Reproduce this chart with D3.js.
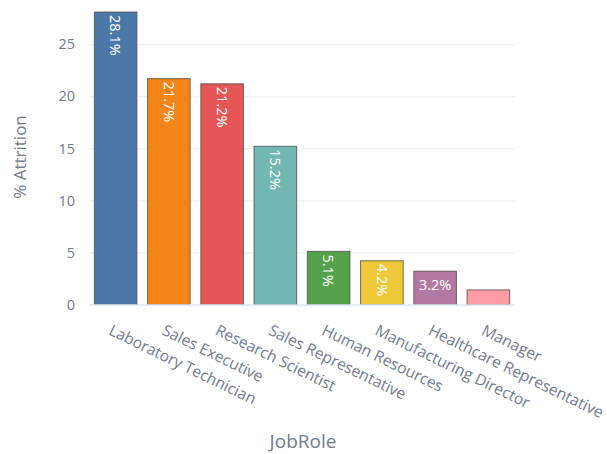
<!DOCTYPE html>
<html>
<head>
<meta charset="utf-8">
<script src="https://cdn.jsdelivr.net/npm/d3@7"></script>
<style>
  html, body { margin: 0; padding: 0; background: #fff; }
  svg { display: block; font-family: "Open Sans", "Noto Sans", sans-serif; }
</style>
</head>
<body>
<svg id="chart" width="607" height="454"></svg>
<script>
const categories = ["Laboratory Technician", "Sales Executive", "Research Scientist", "Sales Representative",
  "Human Resources", "Manufacturing Director", "Healthcare Representative", "Manager"];
const attrition = [28.1, 21.7, 21.2, 15.2, 5.1, 4.2, 3.2, 1.4];
const colors = ["#4C78A8", "#F58518", "#E45756", "#72B7B2", "#54A24B", "#EECA3B", "#B279A2", "#FF9DA6"];
const yTicks = [0, 5, 10, 15, 20, 25];
const xTitle = "JobRole";
const yTitle = "% Attrition";

const svg = d3.select("#chart");
const mLeft = 89, mRight = 515, mTop = 12, mBottom = 304.5;
const textColor = "#757b8c";

const x = d3.scaleBand().domain(categories).range([mLeft, mRight]).paddingInner(0.2).paddingOuter(0.1);
const y = d3.scaleLinear().domain([0, 28.1]).range([mBottom, mTop]);

// gridlines
const yAxis = d3.axisLeft(y).tickValues(yTicks).tickSize(-(mRight - mLeft)).tickPadding(14);
const gy = svg.append("g").attr("transform", `translate(${mLeft},0)`).call(yAxis);
gy.select(".domain").remove();
gy.selectAll(".tick line").attr("stroke", "#e9edf3").attr("stroke-width", 1);
gy.selectAll(".tick text").attr("fill", textColor).attr("font-size", 14.5)
  .attr("font-family", "'Open Sans', 'Noto Sans', sans-serif");

// bars
const data = categories.map((c, i) => ({ c, v: attrition[i], col: colors[i] }));
svg.append("g").selectAll("rect").data(data).join("rect")
  .attr("x", d => x(d.c))
  .attr("y", d => y(d.v))
  .attr("width", x.bandwidth())
  .attr("height", d => y(0) - y(d.v))
  .attr("fill", d => d.col)
  .attr("stroke", "#4d4d4d")
  .attr("stroke-opacity", 0.8)
  .attr("stroke-width", 1);

// value labels inside bars
const fs = 14.5;
const lbl = svg.append("g").attr("fill", "#fff").attr("font-size", fs);
data.forEach(d => {
  const txt = d.v.toFixed(1) + "%";
  const cx = x(d.c) + x.bandwidth() / 2;
  const h = y(0) - y(d.v);
  const t = lbl.append("text").text(txt);
  const w = t.node().getComputedTextLength();
  if (h >= w + 6) {
    t.attr("text-anchor", "start")
     .attr("transform", `translate(${cx - fs * 0.36},${y(d.v) + 3}) rotate(90)`);
  } else if (h >= fs + 6 && w + 4 <= x.bandwidth()) {
    t.attr("text-anchor", "middle").attr("x", cx).attr("y", y(d.v) + fs + 4);
  } else {
    t.remove();
  }
});

// baseline
svg.append("line").attr("x1", mLeft).attr("x2", mRight).attr("y1", mBottom + 0.5).attr("y2", mBottom + 0.5)
  .attr("stroke", "#e3e8ef").attr("stroke-width", 1.5);

// x tick labels
svg.append("g").selectAll("text").data(categories).join("text")
  .text(d => d)
  .attr("fill", textColor)
  .attr("font-size", 15.6)
  .attr("text-anchor", "start")
  .attr("transform", d => `translate(${x(d) + x.bandwidth() / 2 - 8},${334}) rotate(26)`);

// axis titles
svg.append("text").text(xTitle).attr("x", 303).attr("y", 448)
  .attr("text-anchor", "middle").attr("fill", textColor).attr("font-size", 19);
svg.append("text").text(yTitle)
  .attr("transform", `translate(26,157) rotate(-90)`)
  .attr("text-anchor", "middle").attr("fill", textColor).attr("font-size", 17);
</script>
</body>
</html>
